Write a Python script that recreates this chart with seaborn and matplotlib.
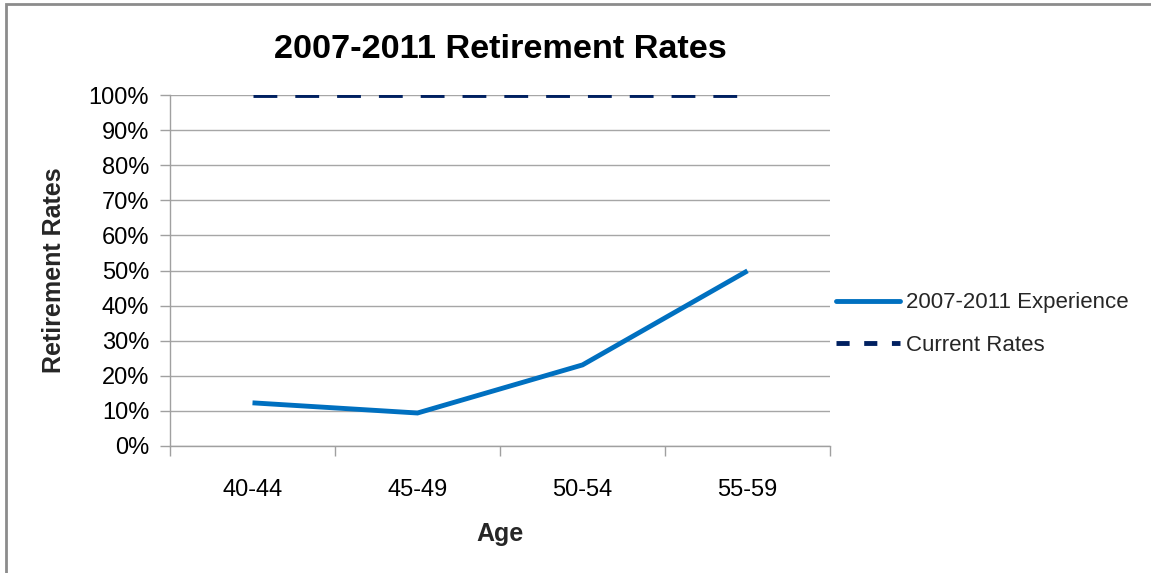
import matplotlib
matplotlib.use("Agg")
import matplotlib.pyplot as plt
from matplotlib.patches import Rectangle
from matplotlib.ticker import FixedLocator, PercentFormatter
import seaborn as sns
import pandas as pd

age_groups = ["40-44", "45-49", "50-54", "55-59"]
experience = [12.3, 9.4, 23.1, 49.9]
current_rates = [100, 100, 100, 100]
series_names = ["2007-2011 Experience", "Current Rates"]

sns.set_theme(style="white")
plt.rcParams["font.family"] = ["Liberation Sans", "DejaVu Sans"]

df = pd.DataFrame({
    "pos": list(range(len(age_groups))) * 2,
    "rate": experience + current_rates,
    "series": [series_names[0]] * len(age_groups) + [series_names[1]] * len(age_groups),
})

fig = plt.figure(figsize=(11.51, 5.73), dpi=100)
ax = fig.add_axes([170 / 1151, 1 - 446 / 573, 660 / 1151, 351 / 573])

lw = 3.5
dash = (4.9, 3.7)
sns.lineplot(
    data=df, x="pos", y="rate", hue="series", style="series",
    palette={series_names[0]: "#0070C0", series_names[1]: "#002060"},
    dashes={series_names[0]: "", series_names[1]: dash},
    linewidth=lw, ax=ax, legend=False,
)
for line in ax.lines:
    line.set_solid_capstyle("butt")
    line.set_dash_capstyle("butt")
    line.set_solid_joinstyle("miter")

ax.set_xlim(-0.5, len(age_groups) - 0.5)
ax.set_ylim(0, 100)
ax.yaxis.set_major_locator(FixedLocator(range(0, 101, 10)))
ax.yaxis.set_major_formatter(PercentFormatter(decimals=0))
ax.set_xticks(range(len(age_groups)))
ax.set_xticklabels(age_groups)
ax.xaxis.set_minor_locator(FixedLocator([i - 0.5 for i in range(len(age_groups) + 1)]))
ax.tick_params(axis="x", which="major", length=0, pad=24, labelsize=17, colors="black")
ax.tick_params(axis="x", which="minor", length=7, width=1, color="#A0A0A0", direction="out", bottom=True)
ax.tick_params(axis="y", length=7, width=1, color="#A0A0A0", direction="out", left=True,
               labelsize=17, labelcolor="black", pad=8)

ax.grid(axis="y", color="#A6A6A6", linewidth=1.0)
ax.grid(axis="x", visible=False)
ax.set_axisbelow(True)
for side in ["top", "right"]:
    ax.spines[side].set_visible(False)
for side in ["left", "bottom"]:
    ax.spines[side].set_color("#A0A0A0")
    ax.spines[side].set_linewidth(1.0)

ax.set_xlabel("Age", fontsize=18, fontweight="bold", labelpad=15)
ax.set_ylabel("Retirement Rates", fontsize=18, fontweight="bold", labelpad=16)
ax.set_title("2007-2011 Retirement Rates", fontsize=24.7, fontweight="bold", pad=27, color="black")

handles = [
    plt.Line2D([], [], color="#0070C0", linewidth=lw),
    plt.Line2D([], [], color="#002060", linewidth=lw, dashes=(2.7, 3.0)),
]
fig.legend(handles, series_names, loc="center left", bbox_to_anchor=(816 / 1151, 1 - 324 / 573),
           frameon=False, fontsize=16, handlelength=2.9, handletextpad=0.27, labelspacing=0.95)

fig.patches.append(Rectangle((6 / 1151, -0.05), 1.2, 1 - 4 / 573 + 0.05,
                             transform=fig.transFigure, fill=False,
                             edgecolor="#8C8C8C", linewidth=2.0))

fig.savefig("out.png", dpi=100)
